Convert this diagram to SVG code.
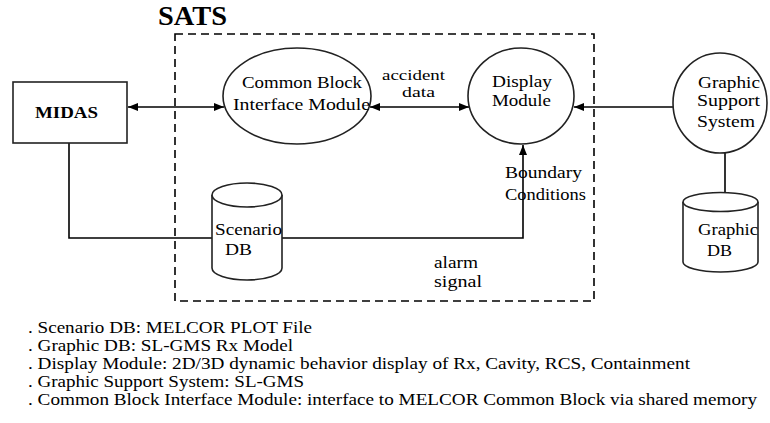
<svg xmlns="http://www.w3.org/2000/svg" width="770" height="423" viewBox="0 0 770 423" font-family="'Liberation Serif', 'Times New Roman', serif">
<style>
text{font-family:'Liberation Serif','Times New Roman',serif;fill:#000}
.lbl{font-size:17px}
.sm{font-size:15px}
.note{font-size:17px}
.shape{fill:#fff;stroke:#222;stroke-width:1.6}
.conn{fill:none;stroke:#000;stroke-width:1.6}
</style>
<defs>
<marker id="ah" viewBox="0 0 10 8" refX="10" refY="4" markerWidth="11" markerHeight="8" markerUnits="userSpaceOnUse" orient="auto-start-reverse">
<path d="M0,0 L10,4 L0,8 z" fill="#000"/>
</marker>
</defs>
<rect width="770" height="423" fill="#fff"/>
<g id="sats">
<rect x="175" y="34" width="419" height="267" fill="none" stroke="#000" stroke-width="1.6" stroke-dasharray="8,5"/>
<text x="158" y="25" font-size="27" font-weight="bold" textLength="69" lengthAdjust="spacingAndGlyphs">SATS</text>
</g>
<g id="connectors">
<line class="conn" x1="128" y1="107" x2="224" y2="107" marker-start="url(#ah)" marker-end="url(#ah)"/>
<line class="conn" x1="370" y1="107" x2="469" y2="107" marker-start="url(#ah)" marker-end="url(#ah)"/>
<line class="conn" x1="673" y1="107" x2="574" y2="107" marker-end="url(#ah)"/>
<polyline class="conn" points="69,143 69,238 523,238 523,145" marker-end="url(#ah)"/>
<line class="conn" x1="725" y1="153" x2="725" y2="193"/>
</g>
<g id="midas">
<rect class="shape" x="13" y="82" width="114" height="61"/>
<text x="35" y="118" font-size="17" font-weight="bold" textLength="63" lengthAdjust="spacingAndGlyphs">MIDAS</text>
</g>
<g id="common-block">
<ellipse class="shape" cx="297" cy="96" rx="74" ry="48"/>
<text class="lbl" x="242" y="88" textLength="120" lengthAdjust="spacingAndGlyphs">Common Block</text>
<text class="lbl" x="233" y="110" textLength="137" lengthAdjust="spacingAndGlyphs">Interface Module</text>
</g>
<g id="display">
<ellipse class="shape" cx="521" cy="96" rx="53" ry="48"/>
<text class="lbl" x="492" y="87" textLength="60" lengthAdjust="spacingAndGlyphs">Display</text>
<text class="lbl" x="492" y="106" textLength="59" lengthAdjust="spacingAndGlyphs">Module</text>
</g>
<g id="graphic-support">
<ellipse class="shape" cx="720" cy="103" rx="47" ry="50"/>
<text class="lbl" x="698" y="88" textLength="62" lengthAdjust="spacingAndGlyphs">Graphic</text>
<text class="lbl" x="697" y="106" textLength="63" lengthAdjust="spacingAndGlyphs">Support</text>
<text class="lbl" x="697" y="127" textLength="58" lengthAdjust="spacingAndGlyphs">System</text>
</g>
<g id="scenario-db">
<path class="shape" d="M212,195 L212,268 A35,12 0 0 0 282,268 L282,195"/>
<ellipse class="shape" cx="247" cy="195" rx="35" ry="12"/>
<text class="lbl" x="215" y="235" textLength="67" lengthAdjust="spacingAndGlyphs">Scenario</text>
<text class="lbl" x="225" y="255" textLength="27" lengthAdjust="spacingAndGlyphs">DB</text>
</g>
<g id="graphic-db">
<path class="shape" d="M683,202 L683,262 A37.5,10 0 0 0 758,262 L758,202"/>
<ellipse class="shape" cx="720.5" cy="202" rx="37.5" ry="9.5"/>
<text class="lbl" x="698" y="235" textLength="60" lengthAdjust="spacingAndGlyphs">Graphic</text>
<text class="lbl" x="707" y="256" textLength="25" lengthAdjust="spacingAndGlyphs">DB</text>
</g>
<g id="labels">
<text class="sm" x="382" y="80" textLength="63" lengthAdjust="spacingAndGlyphs">accident</text>
<text class="sm" x="402" y="97" textLength="33" lengthAdjust="spacingAndGlyphs">data</text>
<text class="lbl" x="505" y="178" textLength="77" lengthAdjust="spacingAndGlyphs">Boundary</text>
<text class="lbl" x="505" y="200" textLength="81" lengthAdjust="spacingAndGlyphs">Conditions</text>
<text class="lbl" x="434" y="268" textLength="44" lengthAdjust="spacingAndGlyphs">alarm</text>
<text class="lbl" x="434" y="287" textLength="48" lengthAdjust="spacingAndGlyphs">signal</text>
</g>
<g id="notes">
<text class="note" x="28" y="333" textLength="284" lengthAdjust="spacingAndGlyphs">. Scenario DB: MELCOR PLOT File</text>
<text class="note" x="28" y="351" textLength="265" lengthAdjust="spacingAndGlyphs">. Graphic DB: SL-GMS Rx Model</text>
<text class="note" x="28" y="369" textLength="662" lengthAdjust="spacingAndGlyphs">. Display Module: 2D/3D dynamic behavior display of Rx, Cavity, RCS, Containment</text>
<text class="note" x="28" y="387" textLength="276" lengthAdjust="spacingAndGlyphs">. Graphic Support System: SL-GMS</text>
<text class="note" x="28" y="405" textLength="729" lengthAdjust="spacingAndGlyphs">. Common Block Interface Module: interface to MELCOR Common Block via shared memory</text>
</g>
</svg>
